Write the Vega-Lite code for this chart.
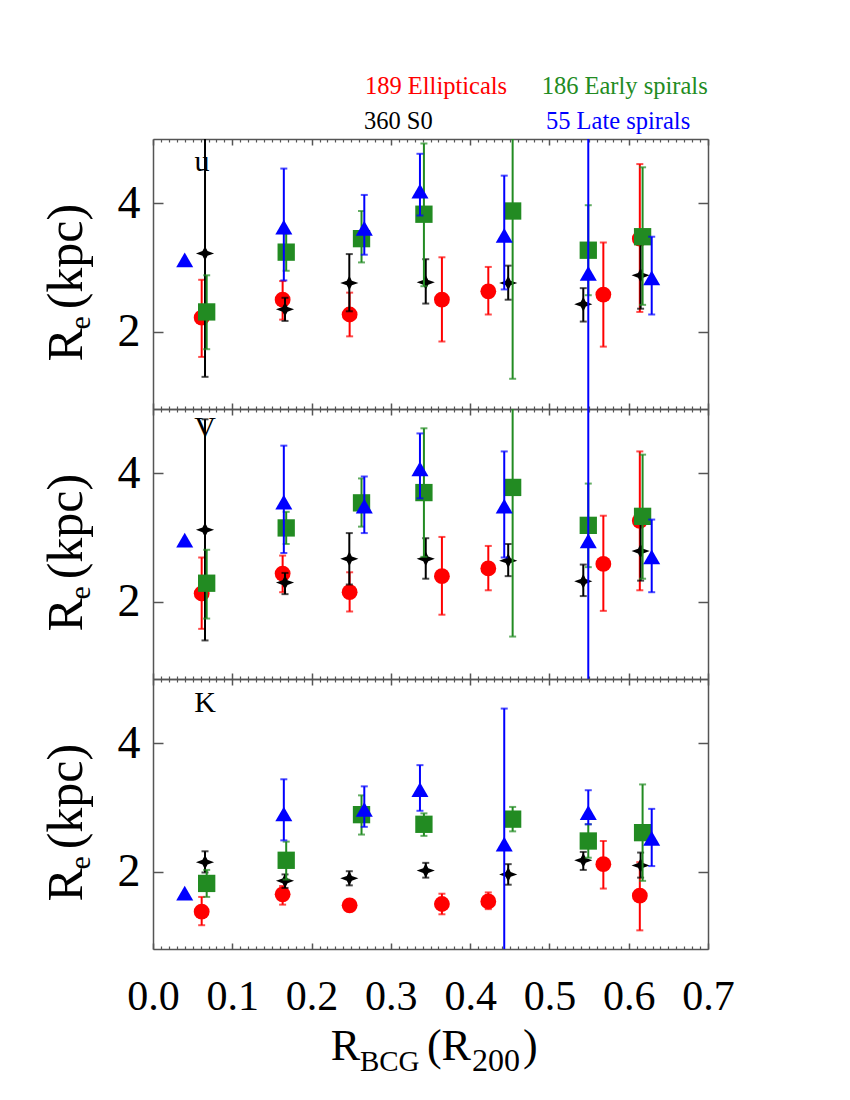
{
  "$schema": "https://vega.github.io/schema/vega-lite/v6.json",
  "padding": {"left": 42, "top": 74, "right": 5, "bottom": 5},
  "background": "white",
  "config": {"view": {"stroke": null}, "text": {"font": "Liberation Serif"}},
  "bounds": "flush",
  "spacing": 0,
  "data": {"values": [
    {"band":"u","g":"E","x":0.0614,"y":2.22,"lo":1.61,"hi":2.81},
    {"band":"u","g":"E","x":0.1635,"y":2.50,"lo":2.19,"hi":2.79},
    {"band":"u","g":"E","x":0.248,"y":2.27,"lo":1.93,"hi":2.61},
    {"band":"u","g":"E","x":0.3644,"y":2.50,"lo":1.85,"hi":3.16},
    {"band":"u","g":"E","x":0.4229,"y":2.63,"lo":2.27,"hi":3.01},
    {"band":"u","g":"E","x":0.568,"y":2.58,"lo":1.77,"hi":3.39},
    {"band":"u","g":"E","x":0.614,"y":3.45,"lo":2.31,"hi":4.61},
    {"band":"u","g":"S0","x":0.0656,"y":3.22,"lo":1.30,"hi":5.6},
    {"band":"u","g":"S0","x":0.1665,"y":2.35,"lo":2.17,"hi":2.53},
    {"band":"u","g":"S0","x":0.2476,"y":2.76,"lo":2.32,"hi":3.21},
    {"band":"u","g":"S0","x":0.344,"y":2.77,"lo":2.44,"hi":3.13},
    {"band":"u","g":"S0","x":0.448,"y":2.76,"lo":2.50,"hi":3.03},
    {"band":"u","g":"S0","x":0.5427,"y":2.43,"lo":2.16,"hi":2.68},
    {"band":"u","g":"S0","x":0.615,"y":2.88,"lo":2.36,"hi":3.40},
    {"band":"u","g":"ES","x":0.0677,"y":2.31,"lo":1.73,"hi":2.88},
    {"band":"u","g":"ES","x":0.168,"y":3.24,"lo":2.95,"hi":3.53},
    {"band":"u","g":"ES","x":0.263,"y":3.45,"lo":3.08,"hi":3.88},
    {"band":"u","g":"ES","x":0.3417,"y":3.83,"lo":2.71,"hi":4.93},
    {"band":"u","g":"ES","x":0.4536,"y":3.88,"lo":1.27,"hi":6.5},
    {"band":"u","g":"ES","x":0.549,"y":3.27,"lo":2.57,"hi":3.97},
    {"band":"u","g":"ES","x":0.6175,"y":3.48,"lo":2.42,"hi":4.56},
    {"band":"u","g":"LS","x":0.040,"y":3.12,"lo":null,"hi":null},
    {"band":"u","g":"LS","x":0.165,"y":3.63,"lo":2.80,"hi":4.54},
    {"band":"u","g":"LS","x":0.2665,"y":3.61,"lo":3.20,"hi":4.13},
    {"band":"u","g":"LS","x":0.3367,"y":4.19,"lo":3.81,"hi":4.77},
    {"band":"u","g":"LS","x":0.443,"y":3.50,"lo":2.66,"hi":4.43},
    {"band":"u","g":"LS","x":0.549,"y":2.91,"lo":-4,"hi":10},
    {"band":"u","g":"LS","x":0.629,"y":2.84,"lo":2.27,"hi":3.48},
    {"band":"V","g":"E","x":0.0614,"y":2.13,"lo":1.58,"hi":2.69},
    {"band":"V","g":"E","x":0.1635,"y":2.44,"lo":2.15,"hi":2.72},
    {"band":"V","g":"E","x":0.248,"y":2.15,"lo":1.85,"hi":2.46},
    {"band":"V","g":"E","x":0.3644,"y":2.40,"lo":1.80,"hi":3.01},
    {"band":"V","g":"E","x":0.4229,"y":2.52,"lo":2.18,"hi":2.87},
    {"band":"V","g":"E","x":0.568,"y":2.59,"lo":1.86,"hi":3.34},
    {"band":"V","g":"E","x":0.614,"y":3.26,"lo":2.18,"hi":4.34},
    {"band":"V","g":"S0","x":0.0656,"y":3.12,"lo":1.40,"hi":4.84},
    {"band":"V","g":"S0","x":0.1665,"y":2.30,"lo":2.12,"hi":2.45},
    {"band":"V","g":"S0","x":0.2476,"y":2.67,"lo":2.27,"hi":3.07},
    {"band":"V","g":"S0","x":0.344,"y":2.67,"lo":2.36,"hi":2.99},
    {"band":"V","g":"S0","x":0.448,"y":2.64,"lo":2.40,"hi":2.90},
    {"band":"V","g":"S0","x":0.5427,"y":2.32,"lo":2.09,"hi":2.58},
    {"band":"V","g":"S0","x":0.615,"y":2.79,"lo":2.33,"hi":3.25},
    {"band":"V","g":"ES","x":0.0677,"y":2.29,"lo":1.74,"hi":2.81},
    {"band":"V","g":"ES","x":0.168,"y":3.15,"lo":2.90,"hi":3.40},
    {"band":"V","g":"ES","x":0.263,"y":3.54,"lo":3.17,"hi":3.92},
    {"band":"V","g":"ES","x":0.3417,"y":3.70,"lo":2.70,"hi":4.70},
    {"band":"V","g":"ES","x":0.4536,"y":3.78,"lo":1.46,"hi":6.1},
    {"band":"V","g":"ES","x":0.549,"y":3.19,"lo":2.54,"hi":3.84},
    {"band":"V","g":"ES","x":0.6175,"y":3.33,"lo":2.36,"hi":4.29},
    {"band":"V","g":"LS","x":0.040,"y":2.96,"lo":null,"hi":null},
    {"band":"V","g":"LS","x":0.165,"y":3.55,"lo":2.76,"hi":4.43},
    {"band":"V","g":"LS","x":0.2665,"y":3.49,"lo":3.07,"hi":3.95},
    {"band":"V","g":"LS","x":0.3367,"y":4.07,"lo":3.61,"hi":4.62},
    {"band":"V","g":"LS","x":0.443,"y":3.49,"lo":2.69,"hi":4.34},
    {"band":"V","g":"LS","x":0.549,"y":2.95,"lo":-4,"hi":10},
    {"band":"V","g":"LS","x":0.629,"y":2.70,"lo":2.15,"hi":3.28},
    {"band":"K","g":"E","x":0.0614,"y":1.38,"lo":1.17,"hi":1.61},
    {"band":"K","g":"E","x":0.1635,"y":1.65,"lo":1.49,"hi":1.78},
    {"band":"K","g":"E","x":0.248,"y":1.48,"lo":null,"hi":null},
    {"band":"K","g":"E","x":0.3644,"y":1.50,"lo":1.34,"hi":1.66},
    {"band":"K","g":"E","x":0.4229,"y":1.54,"lo":1.42,"hi":1.68},
    {"band":"K","g":"E","x":0.568,"y":2.12,"lo":1.74,"hi":2.48},
    {"band":"K","g":"E","x":0.614,"y":1.63,"lo":1.09,"hi":2.15},
    {"band":"K","g":"S0","x":0.0656,"y":2.15,"lo":1.99,"hi":2.32},
    {"band":"K","g":"S0","x":0.1665,"y":1.86,"lo":1.75,"hi":1.96},
    {"band":"K","g":"S0","x":0.2476,"y":1.90,"lo":1.79,"hi":2.01},
    {"band":"K","g":"S0","x":0.344,"y":2.02,"lo":1.91,"hi":2.14},
    {"band":"K","g":"S0","x":0.448,"y":1.96,"lo":1.80,"hi":2.12},
    {"band":"K","g":"S0","x":0.5427,"y":2.18,"lo":2.03,"hi":2.31},
    {"band":"K","g":"S0","x":0.615,"y":2.10,"lo":1.91,"hi":2.30},
    {"band":"K","g":"ES","x":0.0677,"y":1.82,"lo":1.61,"hi":2.03},
    {"band":"K","g":"ES","x":0.168,"y":2.18,"lo":1.88,"hi":2.47},
    {"band":"K","g":"ES","x":0.263,"y":2.89,"lo":2.58,"hi":3.19},
    {"band":"K","g":"ES","x":0.3417,"y":2.74,"lo":2.56,"hi":2.91},
    {"band":"K","g":"ES","x":0.4536,"y":2.82,"lo":2.63,"hi":3.01},
    {"band":"K","g":"ES","x":0.549,"y":2.48,"lo":2.22,"hi":2.74},
    {"band":"K","g":"ES","x":0.6175,"y":2.61,"lo":1.86,"hi":3.36},
    {"band":"K","g":"LS","x":0.040,"y":1.67,"lo":null,"hi":null},
    {"band":"K","g":"LS","x":0.165,"y":2.90,"lo":2.49,"hi":3.44},
    {"band":"K","g":"LS","x":0.2665,"y":2.97,"lo":2.70,"hi":3.33},
    {"band":"K","g":"LS","x":0.3367,"y":3.28,"lo":2.95,"hi":3.66},
    {"band":"K","g":"LS","x":0.443,"y":2.43,"lo":0.32,"hi":4.54},
    {"band":"K","g":"LS","x":0.549,"y":2.92,"lo":2.74,"hi":3.27},
    {"band":"K","g":"LS","x":0.629,"y":2.52,"lo":2.09,"hi":2.98}
  ]},
  "vconcat": [
    {
      "width": 555, "height": 270,
      "resolve": {"axis": {"x": "independent", "y": "independent"}},
      "layer": [
        {"transform": [{"filter": "datum.band==='u' && datum.g==='E'"}], "mark": {"type": "rule", "color": "#ff0000", "strokeWidth": 2, "clip": true},
         "encoding": {"x": {"field": "x", "type": "quantitative", "scale": {"domain": [0, 0.7], "nice": false, "zero": false}, "axis": {"orient": "bottom", "values": [0,0.1,0.2,0.3,0.4,0.5,0.6,0.7], "tickSize": -6, "tickWidth": 1.5, "tickColor": "#555555", "domainColor": "#555555", "domainWidth": 1.5, "labels": false, "grid": false, "title": null}},
                      "y": {"field": "lo", "type": "quantitative", "scale": {"domain": [0.8, 5], "nice": false, "zero": false}, "axis": {"orient": "left", "values": [2,4], "tickSize": -10, "tickWidth": 1.5, "tickColor": "#555555", "domainColor": "#555555", "domainWidth": 1.5, "labelFont": "Liberation Serif", "labelFontSize": 46, "labelColor": "#000000", "labelPadding": 23, "grid": false, "title": null}},
                      "y2": {"field": "hi"}}},
        {"transform": [{"filter": "datum.band==='u' && datum.g==='E'"}, {"fold": ["lo", "hi"], "as": ["end", "yv"]}], "mark": {"type": "tick", "orient": "horizontal", "color": "#ff0000", "size": 7, "thickness": 2, "clip": true},
         "encoding": {"x": {"field": "x", "type": "quantitative", "scale": {"domain": [0, 0.7], "nice": false, "zero": false}, "axis": {"orient": "top", "values": [0,0.1,0.2,0.3,0.4,0.5,0.6,0.7], "tickSize": -6, "tickWidth": 1.5, "tickColor": "#555555", "domainColor": "#555555", "domainWidth": 1.5, "labels": false, "grid": false, "title": null}},
                      "y": {"field": "yv", "type": "quantitative", "scale": {"domain": [0.8, 5], "nice": false, "zero": false}, "axis": {"orient": "right", "values": [2,4], "tickSize": -10, "tickWidth": 1.5, "tickColor": "#555555", "domainColor": "#555555", "domainWidth": 1.5, "labels": false, "grid": false, "title": null}}}},
        {"transform": [{"filter": "datum.band==='u' && datum.g==='E'"}], "mark": {"type": "point", "shape": "circle", "filled": true, "color": "#ff0000", "opacity": 1, "size": 250, "clip": true},
         "encoding": {"x": {"field": "x", "type": "quantitative", "scale": {"domain": [0, 0.7], "nice": false, "zero": false}, "axis": {"orient": "bottom", "values": [0.01,0.02,0.03,0.04,0.05,0.06,0.07,0.08,0.09,0.11,0.12,0.13,0.14,0.15,0.16,0.17,0.18,0.19,0.21,0.22,0.23,0.24,0.25,0.26,0.27,0.28,0.29,0.31,0.32,0.33,0.34,0.35,0.36,0.37,0.38,0.39,0.41,0.42,0.43,0.44,0.45,0.46,0.47,0.48,0.49,0.51,0.52,0.53,0.54,0.55,0.56,0.57,0.58,0.59,0.61,0.62,0.63,0.64,0.65,0.66,0.67,0.68,0.69], "tickSize": -3, "tickWidth": 1.2, "tickColor": "#555555", "domain": false, "labels": false, "grid": false, "title": null}},
                      "y": {"field": "y", "type": "quantitative", "scale": {"domain": [0.8, 5], "nice": false, "zero": false}, "axis": null}}},
        {"transform": [{"filter": "datum.band==='u' && datum.g==='S0'"}], "mark": {"type": "rule", "color": "#000000", "strokeWidth": 2, "clip": true},
         "encoding": {"x": {"field": "x", "type": "quantitative", "scale": {"domain": [0, 0.7], "nice": false, "zero": false}, "axis": {"orient": "top", "values": [0.01,0.02,0.03,0.04,0.05,0.06,0.07,0.08,0.09,0.11,0.12,0.13,0.14,0.15,0.16,0.17,0.18,0.19,0.21,0.22,0.23,0.24,0.25,0.26,0.27,0.28,0.29,0.31,0.32,0.33,0.34,0.35,0.36,0.37,0.38,0.39,0.41,0.42,0.43,0.44,0.45,0.46,0.47,0.48,0.49,0.51,0.52,0.53,0.54,0.55,0.56,0.57,0.58,0.59,0.61,0.62,0.63,0.64,0.65,0.66,0.67,0.68,0.69], "tickSize": -3, "tickWidth": 1.2, "tickColor": "#555555", "domain": false, "labels": false, "grid": false, "title": null}},
                      "y": {"field": "lo", "type": "quantitative", "scale": {"domain": [0.8, 5], "nice": false, "zero": false}, "axis": null}, "y2": {"field": "hi"}}},
        {"transform": [{"filter": "datum.band==='u' && datum.g==='S0'"}, {"fold": ["lo", "hi"], "as": ["end", "yv"]}], "mark": {"type": "tick", "orient": "horizontal", "color": "#000000", "size": 7, "thickness": 2, "clip": true},
         "encoding": {"x": {"field": "x", "type": "quantitative", "axis": null}, "y": {"field": "yv", "type": "quantitative", "axis": null}}},
        {"transform": [{"filter": "datum.band==='u' && datum.g==='S0'"}], "mark": {"type": "point", "shape": "M-1,0L-0.28,-0.26L0,-0.8L0.28,-0.26L1,0L0.28,0.26L0,0.8L-0.28,0.26Z", "filled": true, "color": "#000000", "opacity": 1, "size": 330, "clip": true},
         "encoding": {"x": {"field": "x", "type": "quantitative", "axis": null}, "y": {"field": "y", "type": "quantitative", "axis": null}}},
        {"transform": [{"filter": "datum.band==='u' && datum.g==='ES'"}], "mark": {"type": "rule", "color": "#228b22", "strokeWidth": 2, "clip": true},
         "encoding": {"x": {"field": "x", "type": "quantitative", "axis": null}, "y": {"field": "lo", "type": "quantitative", "axis": null}, "y2": {"field": "hi"}}},
        {"transform": [{"filter": "datum.band==='u' && datum.g==='ES'"}, {"fold": ["lo", "hi"], "as": ["end", "yv"]}], "mark": {"type": "tick", "orient": "horizontal", "color": "#228b22", "size": 7, "thickness": 2, "clip": true},
         "encoding": {"x": {"field": "x", "type": "quantitative", "axis": null}, "y": {"field": "yv", "type": "quantitative", "axis": null}}},
        {"transform": [{"filter": "datum.band==='u' && datum.g==='ES'"}], "mark": {"type": "point", "shape": "square", "filled": true, "color": "#228b22", "opacity": 1, "size": 300, "clip": true},
         "encoding": {"x": {"field": "x", "type": "quantitative", "axis": null}, "y": {"field": "y", "type": "quantitative", "axis": null}}},
        {"transform": [{"filter": "datum.band==='u' && datum.g==='LS'"}], "mark": {"type": "rule", "color": "#0000ff", "strokeWidth": 2, "clip": true},
         "encoding": {"x": {"field": "x", "type": "quantitative", "axis": null}, "y": {"field": "lo", "type": "quantitative", "axis": null}, "y2": {"field": "hi"}}},
        {"transform": [{"filter": "datum.band==='u' && datum.g==='LS'"}, {"fold": ["lo", "hi"], "as": ["end", "yv"]}], "mark": {"type": "tick", "orient": "horizontal", "color": "#0000ff", "size": 7, "thickness": 2, "clip": true},
         "encoding": {"x": {"field": "x", "type": "quantitative", "axis": null}, "y": {"field": "yv", "type": "quantitative", "axis": null}}},
        {"transform": [{"filter": "datum.band==='u' && datum.g==='LS'"}], "mark": {"type": "point", "shape": "triangle-up", "filled": true, "color": "#0000ff", "opacity": 1, "size": 290, "clip": true},
         "encoding": {"x": {"field": "x", "type": "quantitative", "axis": null}, "y": {"field": "y", "type": "quantitative", "axis": null}}},
        {"data": {"values": [{"t": "u"}]}, "mark": {"type": "text", "font": "Liberation Serif", "fontSize": 30, "align": "center", "baseline": "alphabetic", "color": "#000000"},
         "encoding": {"x": {"datum": 0.0618, "type": "quantitative", "axis": null}, "y": {"datum": 4.5, "type": "quantitative", "axis": null}, "text": {"field": "t"}}},
        {"data": {"values": [{"t": "R"}]}, "mark": {"type": "text", "font": "Liberation Serif", "fontSize": 50, "angle": 270, "align": "left", "baseline": "alphabetic", "color": "#000000"},
         "encoding": {"x": {"datum": -0.0895, "type": "quantitative", "axis": null}, "y": {"datum": 1.539, "type": "quantitative", "axis": null}, "text": {"field": "t"}}},
        {"data": {"values": [{"t": "e"}]}, "mark": {"type": "text", "font": "Liberation Serif", "fontSize": 30, "angle": 270, "align": "left", "baseline": "alphabetic", "color": "#000000"},
         "encoding": {"x": {"datum": -0.0794, "type": "quantitative", "axis": null}, "y": {"datum": 2.037, "type": "quantitative", "axis": null}, "text": {"field": "t"}}},
        {"data": {"values": [{"t": "(kpc)"}]}, "mark": {"type": "text", "font": "Liberation Serif", "fontSize": 50, "angle": 270, "align": "left", "baseline": "alphabetic", "color": "#000000"},
         "encoding": {"x": {"datum": -0.0895, "type": "quantitative", "axis": null}, "y": {"datum": 2.35, "type": "quantitative", "axis": null}, "text": {"field": "t"}}},
        {"data": {"values": [{"t": "189 Ellipticals"}]}, "mark": {"type": "text", "font": "Liberation Serif", "fontSize": 24.5, "align": "left", "baseline": "alphabetic", "color": "#ff0000"},
         "encoding": {"x": {"datum": 0.2673, "type": "quantitative", "axis": null}, "y": {"datum": 5.698, "type": "quantitative", "axis": null}, "text": {"field": "t"}}},
        {"data": {"values": [{"t": "186 Early spirals"}]}, "mark": {"type": "text", "font": "Liberation Serif", "fontSize": 24.5, "align": "left", "baseline": "alphabetic", "color": "#228b22"},
         "encoding": {"x": {"datum": 0.4902, "type": "quantitative", "axis": null}, "y": {"datum": 5.698, "type": "quantitative", "axis": null}, "text": {"field": "t"}}},
        {"data": {"values": [{"t": "360 S0"}]}, "mark": {"type": "text", "font": "Liberation Serif", "fontSize": 24.5, "align": "left", "baseline": "alphabetic", "color": "#000000"},
         "encoding": {"x": {"datum": 0.2661, "type": "quantitative", "axis": null}, "y": {"datum": 5.153, "type": "quantitative", "axis": null}, "text": {"field": "t"}}},
        {"data": {"values": [{"t": "55 Late spirals"}]}, "mark": {"type": "text", "font": "Liberation Serif", "fontSize": 24.5, "align": "left", "baseline": "alphabetic", "color": "#0000ff"},
         "encoding": {"x": {"datum": 0.4956, "type": "quantitative", "axis": null}, "y": {"datum": 5.153, "type": "quantitative", "axis": null}, "text": {"field": "t"}}}
      ]
    },
    {
      "width": 555, "height": 270,
      "resolve": {"axis": {"x": "independent", "y": "independent"}},
      "layer": [
        {"transform": [{"filter": "datum.band==='V' && datum.g==='E'"}], "mark": {"type": "rule", "color": "#ff0000", "strokeWidth": 2, "clip": true},
         "encoding": {"x": {"field": "x", "type": "quantitative", "scale": {"domain": [0, 0.7], "nice": false, "zero": false}, "axis": {"orient": "bottom", "values": [0,0.1,0.2,0.3,0.4,0.5,0.6,0.7], "tickSize": -6, "tickWidth": 1.5, "tickColor": "#555555", "domainColor": "#555555", "domainWidth": 1.5, "labels": false, "grid": false, "title": null}},
                      "y": {"field": "lo", "type": "quantitative", "scale": {"domain": [0.8, 5], "nice": false, "zero": false}, "axis": {"orient": "left", "values": [2,4], "tickSize": -10, "tickWidth": 1.5, "tickColor": "#555555", "domainColor": "#555555", "domainWidth": 1.5, "labelFont": "Liberation Serif", "labelFontSize": 46, "labelColor": "#000000", "labelPadding": 23, "grid": false, "title": null}},
                      "y2": {"field": "hi"}}},
        {"transform": [{"filter": "datum.band==='V' && datum.g==='E'"}, {"fold": ["lo", "hi"], "as": ["end", "yv"]}], "mark": {"type": "tick", "orient": "horizontal", "color": "#ff0000", "size": 7, "thickness": 2, "clip": true},
         "encoding": {"x": {"field": "x", "type": "quantitative", "scale": {"domain": [0, 0.7], "nice": false, "zero": false}, "axis": {"orient": "top", "values": [0,0.1,0.2,0.3,0.4,0.5,0.6,0.7], "tickSize": -6, "tickWidth": 1.5, "tickColor": "#555555", "domainColor": "#555555", "domainWidth": 1.5, "labels": false, "grid": false, "title": null}},
                      "y": {"field": "yv", "type": "quantitative", "scale": {"domain": [0.8, 5], "nice": false, "zero": false}, "axis": {"orient": "right", "values": [2,4], "tickSize": -10, "tickWidth": 1.5, "tickColor": "#555555", "domainColor": "#555555", "domainWidth": 1.5, "labels": false, "grid": false, "title": null}}}},
        {"transform": [{"filter": "datum.band==='V' && datum.g==='E'"}], "mark": {"type": "point", "shape": "circle", "filled": true, "color": "#ff0000", "opacity": 1, "size": 250, "clip": true},
         "encoding": {"x": {"field": "x", "type": "quantitative", "scale": {"domain": [0, 0.7], "nice": false, "zero": false}, "axis": {"orient": "bottom", "values": [0.01,0.02,0.03,0.04,0.05,0.06,0.07,0.08,0.09,0.11,0.12,0.13,0.14,0.15,0.16,0.17,0.18,0.19,0.21,0.22,0.23,0.24,0.25,0.26,0.27,0.28,0.29,0.31,0.32,0.33,0.34,0.35,0.36,0.37,0.38,0.39,0.41,0.42,0.43,0.44,0.45,0.46,0.47,0.48,0.49,0.51,0.52,0.53,0.54,0.55,0.56,0.57,0.58,0.59,0.61,0.62,0.63,0.64,0.65,0.66,0.67,0.68,0.69], "tickSize": -3, "tickWidth": 1.2, "tickColor": "#555555", "domain": false, "labels": false, "grid": false, "title": null}},
                      "y": {"field": "y", "type": "quantitative", "scale": {"domain": [0.8, 5], "nice": false, "zero": false}, "axis": null}}},
        {"transform": [{"filter": "datum.band==='V' && datum.g==='S0'"}], "mark": {"type": "rule", "color": "#000000", "strokeWidth": 2, "clip": true},
         "encoding": {"x": {"field": "x", "type": "quantitative", "scale": {"domain": [0, 0.7], "nice": false, "zero": false}, "axis": {"orient": "top", "values": [0.01,0.02,0.03,0.04,0.05,0.06,0.07,0.08,0.09,0.11,0.12,0.13,0.14,0.15,0.16,0.17,0.18,0.19,0.21,0.22,0.23,0.24,0.25,0.26,0.27,0.28,0.29,0.31,0.32,0.33,0.34,0.35,0.36,0.37,0.38,0.39,0.41,0.42,0.43,0.44,0.45,0.46,0.47,0.48,0.49,0.51,0.52,0.53,0.54,0.55,0.56,0.57,0.58,0.59,0.61,0.62,0.63,0.64,0.65,0.66,0.67,0.68,0.69], "tickSize": -3, "tickWidth": 1.2, "tickColor": "#555555", "domain": false, "labels": false, "grid": false, "title": null}},
                      "y": {"field": "lo", "type": "quantitative", "scale": {"domain": [0.8, 5], "nice": false, "zero": false}, "axis": null}, "y2": {"field": "hi"}}},
        {"transform": [{"filter": "datum.band==='V' && datum.g==='S0'"}, {"fold": ["lo", "hi"], "as": ["end", "yv"]}], "mark": {"type": "tick", "orient": "horizontal", "color": "#000000", "size": 7, "thickness": 2, "clip": true},
         "encoding": {"x": {"field": "x", "type": "quantitative", "axis": null}, "y": {"field": "yv", "type": "quantitative", "axis": null}}},
        {"transform": [{"filter": "datum.band==='V' && datum.g==='S0'"}], "mark": {"type": "point", "shape": "M-1,0L-0.28,-0.26L0,-0.8L0.28,-0.26L1,0L0.28,0.26L0,0.8L-0.28,0.26Z", "filled": true, "color": "#000000", "opacity": 1, "size": 330, "clip": true},
         "encoding": {"x": {"field": "x", "type": "quantitative", "axis": null}, "y": {"field": "y", "type": "quantitative", "axis": null}}},
        {"transform": [{"filter": "datum.band==='V' && datum.g==='ES'"}], "mark": {"type": "rule", "color": "#228b22", "strokeWidth": 2, "clip": true},
         "encoding": {"x": {"field": "x", "type": "quantitative", "axis": null}, "y": {"field": "lo", "type": "quantitative", "axis": null}, "y2": {"field": "hi"}}},
        {"transform": [{"filter": "datum.band==='V' && datum.g==='ES'"}, {"fold": ["lo", "hi"], "as": ["end", "yv"]}], "mark": {"type": "tick", "orient": "horizontal", "color": "#228b22", "size": 7, "thickness": 2, "clip": true},
         "encoding": {"x": {"field": "x", "type": "quantitative", "axis": null}, "y": {"field": "yv", "type": "quantitative", "axis": null}}},
        {"transform": [{"filter": "datum.band==='V' && datum.g==='ES'"}], "mark": {"type": "point", "shape": "square", "filled": true, "color": "#228b22", "opacity": 1, "size": 300, "clip": true},
         "encoding": {"x": {"field": "x", "type": "quantitative", "axis": null}, "y": {"field": "y", "type": "quantitative", "axis": null}}},
        {"transform": [{"filter": "datum.band==='V' && datum.g==='LS'"}], "mark": {"type": "rule", "color": "#0000ff", "strokeWidth": 2, "clip": true},
         "encoding": {"x": {"field": "x", "type": "quantitative", "axis": null}, "y": {"field": "lo", "type": "quantitative", "axis": null}, "y2": {"field": "hi"}}},
        {"transform": [{"filter": "datum.band==='V' && datum.g==='LS'"}, {"fold": ["lo", "hi"], "as": ["end", "yv"]}], "mark": {"type": "tick", "orient": "horizontal", "color": "#0000ff", "size": 7, "thickness": 2, "clip": true},
         "encoding": {"x": {"field": "x", "type": "quantitative", "axis": null}, "y": {"field": "yv", "type": "quantitative", "axis": null}}},
        {"transform": [{"filter": "datum.band==='V' && datum.g==='LS'"}], "mark": {"type": "point", "shape": "triangle-up", "filled": true, "color": "#0000ff", "opacity": 1, "size": 290, "clip": true},
         "encoding": {"x": {"field": "x", "type": "quantitative", "axis": null}, "y": {"field": "y", "type": "quantitative", "axis": null}}},
        {"data": {"values": [{"t": "V"}]}, "mark": {"type": "text", "font": "Liberation Serif", "fontSize": 30, "align": "center", "baseline": "alphabetic", "color": "#000000"},
         "encoding": {"x": {"datum": 0.0656, "type": "quantitative", "axis": null}, "y": {"datum": 4.56, "type": "quantitative", "axis": null}, "text": {"field": "t"}}},
        {"data": {"values": [{"t": "R"}]}, "mark": {"type": "text", "font": "Liberation Serif", "fontSize": 50, "angle": 270, "align": "left", "baseline": "alphabetic", "color": "#000000"},
         "encoding": {"x": {"datum": -0.0895, "type": "quantitative", "axis": null}, "y": {"datum": 1.539, "type": "quantitative", "axis": null}, "text": {"field": "t"}}},
        {"data": {"values": [{"t": "e"}]}, "mark": {"type": "text", "font": "Liberation Serif", "fontSize": 30, "angle": 270, "align": "left", "baseline": "alphabetic", "color": "#000000"},
         "encoding": {"x": {"datum": -0.0794, "type": "quantitative", "axis": null}, "y": {"datum": 2.037, "type": "quantitative", "axis": null}, "text": {"field": "t"}}},
        {"data": {"values": [{"t": "(kpc)"}]}, "mark": {"type": "text", "font": "Liberation Serif", "fontSize": 50, "angle": 270, "align": "left", "baseline": "alphabetic", "color": "#000000"},
         "encoding": {"x": {"datum": -0.0895, "type": "quantitative", "axis": null}, "y": {"datum": 2.35, "type": "quantitative", "axis": null}, "text": {"field": "t"}}}
      ]
    },
    {
      "width": 555, "height": 270,
      "resolve": {"axis": {"x": "independent", "y": "independent"}},
      "layer": [
        {"transform": [{"filter": "datum.band==='K' && datum.g==='E'"}], "mark": {"type": "rule", "color": "#ff0000", "strokeWidth": 2, "clip": true},
         "encoding": {"x": {"field": "x", "type": "quantitative", "scale": {"domain": [0, 0.7], "nice": false, "zero": false}, "axis": {"orient": "bottom", "values": [0,0.1,0.2,0.3,0.4,0.5,0.6,0.7], "format": ".1f", "tickSize": -6, "tickWidth": 1.5, "tickColor": "#555555", "domainColor": "#555555", "domainWidth": 1.5, "labelFont": "Liberation Serif", "labelFontSize": 42, "labelColor": "#000000", "labelPadding": 33, "labelFlush": false, "labelOverlap": false, "grid": false, "title": null}},
                      "y": {"field": "lo", "type": "quantitative", "scale": {"domain": [0.8, 5], "nice": false, "zero": false}, "axis": {"orient": "left", "values": [2,4], "tickSize": -10, "tickWidth": 1.5, "tickColor": "#555555", "domainColor": "#555555", "domainWidth": 1.5, "labelFont": "Liberation Serif", "labelFontSize": 46, "labelColor": "#000000", "labelPadding": 23, "grid": false, "title": null}},
                      "y2": {"field": "hi"}}},
        {"transform": [{"filter": "datum.band==='K' && datum.g==='E'"}, {"fold": ["lo", "hi"], "as": ["end", "yv"]}], "mark": {"type": "tick", "orient": "horizontal", "color": "#ff0000", "size": 7, "thickness": 2, "clip": true},
         "encoding": {"x": {"field": "x", "type": "quantitative", "scale": {"domain": [0, 0.7], "nice": false, "zero": false}, "axis": {"orient": "top", "values": [0,0.1,0.2,0.3,0.4,0.5,0.6,0.7], "tickSize": -6, "tickWidth": 1.5, "tickColor": "#555555", "domainColor": "#555555", "domainWidth": 1.5, "labels": false, "grid": false, "title": null}},
                      "y": {"field": "yv", "type": "quantitative", "scale": {"domain": [0.8, 5], "nice": false, "zero": false}, "axis": {"orient": "right", "values": [2,4], "tickSize": -10, "tickWidth": 1.5, "tickColor": "#555555", "domainColor": "#555555", "domainWidth": 1.5, "labels": false, "grid": false, "title": null}}}},
        {"transform": [{"filter": "datum.band==='K' && datum.g==='E'"}], "mark": {"type": "point", "shape": "circle", "filled": true, "color": "#ff0000", "opacity": 1, "size": 250, "clip": true},
         "encoding": {"x": {"field": "x", "type": "quantitative", "scale": {"domain": [0, 0.7], "nice": false, "zero": false}, "axis": {"orient": "bottom", "values": [0.01,0.02,0.03,0.04,0.05,0.06,0.07,0.08,0.09,0.11,0.12,0.13,0.14,0.15,0.16,0.17,0.18,0.19,0.21,0.22,0.23,0.24,0.25,0.26,0.27,0.28,0.29,0.31,0.32,0.33,0.34,0.35,0.36,0.37,0.38,0.39,0.41,0.42,0.43,0.44,0.45,0.46,0.47,0.48,0.49,0.51,0.52,0.53,0.54,0.55,0.56,0.57,0.58,0.59,0.61,0.62,0.63,0.64,0.65,0.66,0.67,0.68,0.69], "tickSize": -3, "tickWidth": 1.2, "tickColor": "#555555", "domain": false, "labels": false, "grid": false, "title": null}},
                      "y": {"field": "y", "type": "quantitative", "scale": {"domain": [0.8, 5], "nice": false, "zero": false}, "axis": null}}},
        {"transform": [{"filter": "datum.band==='K' && datum.g==='S0'"}], "mark": {"type": "rule", "color": "#000000", "strokeWidth": 2, "clip": true},
         "encoding": {"x": {"field": "x", "type": "quantitative", "scale": {"domain": [0, 0.7], "nice": false, "zero": false}, "axis": {"orient": "top", "values": [0.01,0.02,0.03,0.04,0.05,0.06,0.07,0.08,0.09,0.11,0.12,0.13,0.14,0.15,0.16,0.17,0.18,0.19,0.21,0.22,0.23,0.24,0.25,0.26,0.27,0.28,0.29,0.31,0.32,0.33,0.34,0.35,0.36,0.37,0.38,0.39,0.41,0.42,0.43,0.44,0.45,0.46,0.47,0.48,0.49,0.51,0.52,0.53,0.54,0.55,0.56,0.57,0.58,0.59,0.61,0.62,0.63,0.64,0.65,0.66,0.67,0.68,0.69], "tickSize": -3, "tickWidth": 1.2, "tickColor": "#555555", "domain": false, "labels": false, "grid": false, "title": null}},
                      "y": {"field": "lo", "type": "quantitative", "scale": {"domain": [0.8, 5], "nice": false, "zero": false}, "axis": null}, "y2": {"field": "hi"}}},
        {"transform": [{"filter": "datum.band==='K' && datum.g==='S0'"}, {"fold": ["lo", "hi"], "as": ["end", "yv"]}], "mark": {"type": "tick", "orient": "horizontal", "color": "#000000", "size": 7, "thickness": 2, "clip": true},
         "encoding": {"x": {"field": "x", "type": "quantitative", "axis": null}, "y": {"field": "yv", "type": "quantitative", "axis": null}}},
        {"transform": [{"filter": "datum.band==='K' && datum.g==='S0'"}], "mark": {"type": "point", "shape": "M-1,0L-0.28,-0.26L0,-0.8L0.28,-0.26L1,0L0.28,0.26L0,0.8L-0.28,0.26Z", "filled": true, "color": "#000000", "opacity": 1, "size": 330, "clip": true},
         "encoding": {"x": {"field": "x", "type": "quantitative", "axis": null}, "y": {"field": "y", "type": "quantitative", "axis": null}}},
        {"transform": [{"filter": "datum.band==='K' && datum.g==='ES'"}], "mark": {"type": "rule", "color": "#228b22", "strokeWidth": 2, "clip": true},
         "encoding": {"x": {"field": "x", "type": "quantitative", "axis": null}, "y": {"field": "lo", "type": "quantitative", "axis": null}, "y2": {"field": "hi"}}},
        {"transform": [{"filter": "datum.band==='K' && datum.g==='ES'"}, {"fold": ["lo", "hi"], "as": ["end", "yv"]}], "mark": {"type": "tick", "orient": "horizontal", "color": "#228b22", "size": 7, "thickness": 2, "clip": true},
         "encoding": {"x": {"field": "x", "type": "quantitative", "axis": null}, "y": {"field": "yv", "type": "quantitative", "axis": null}}},
        {"transform": [{"filter": "datum.band==='K' && datum.g==='ES'"}], "mark": {"type": "point", "shape": "square", "filled": true, "color": "#228b22", "opacity": 1, "size": 300, "clip": true},
         "encoding": {"x": {"field": "x", "type": "quantitative", "axis": null}, "y": {"field": "y", "type": "quantitative", "axis": null}}},
        {"transform": [{"filter": "datum.band==='K' && datum.g==='LS'"}], "mark": {"type": "rule", "color": "#0000ff", "strokeWidth": 2, "clip": true},
         "encoding": {"x": {"field": "x", "type": "quantitative", "axis": null}, "y": {"field": "lo", "type": "quantitative", "axis": null}, "y2": {"field": "hi"}}},
        {"transform": [{"filter": "datum.band==='K' && datum.g==='LS'"}, {"fold": ["lo", "hi"], "as": ["end", "yv"]}], "mark": {"type": "tick", "orient": "horizontal", "color": "#0000ff", "size": 7, "thickness": 2, "clip": true},
         "encoding": {"x": {"field": "x", "type": "quantitative", "axis": null}, "y": {"field": "yv", "type": "quantitative", "axis": null}}},
        {"transform": [{"filter": "datum.band==='K' && datum.g==='LS'"}], "mark": {"type": "point", "shape": "triangle-up", "filled": true, "color": "#0000ff", "opacity": 1, "size": 290, "clip": true},
         "encoding": {"x": {"field": "x", "type": "quantitative", "axis": null}, "y": {"field": "y", "type": "quantitative", "axis": null}}},
        {"data": {"values": [{"t": "K"}]}, "mark": {"type": "text", "font": "Liberation Serif", "fontSize": 30, "align": "center", "baseline": "alphabetic", "color": "#000000"},
         "encoding": {"x": {"datum": 0.0656, "type": "quantitative", "axis": null}, "y": {"datum": 4.49, "type": "quantitative", "axis": null}, "text": {"field": "t"}}},
        {"data": {"values": [{"t": "R"}]}, "mark": {"type": "text", "font": "Liberation Serif", "fontSize": 50, "angle": 270, "align": "left", "baseline": "alphabetic", "color": "#000000"},
         "encoding": {"x": {"datum": -0.0895, "type": "quantitative", "axis": null}, "y": {"datum": 1.539, "type": "quantitative", "axis": null}, "text": {"field": "t"}}},
        {"data": {"values": [{"t": "e"}]}, "mark": {"type": "text", "font": "Liberation Serif", "fontSize": 30, "angle": 270, "align": "left", "baseline": "alphabetic", "color": "#000000"},
         "encoding": {"x": {"datum": -0.0794, "type": "quantitative", "axis": null}, "y": {"datum": 2.037, "type": "quantitative", "axis": null}, "text": {"field": "t"}}},
        {"data": {"values": [{"t": "(kpc)"}]}, "mark": {"type": "text", "font": "Liberation Serif", "fontSize": 50, "angle": 270, "align": "left", "baseline": "alphabetic", "color": "#000000"},
         "encoding": {"x": {"datum": -0.0895, "type": "quantitative", "axis": null}, "y": {"datum": 2.35, "type": "quantitative", "axis": null}, "text": {"field": "t"}}},
        {"data": {"values": [{"t": "R"}]}, "mark": {"type": "text", "font": "Liberation Serif", "fontSize": 44, "align": "left", "baseline": "alphabetic", "color": "#000000"},
         "encoding": {"x": {"datum": 0.2241, "type": "quantitative", "axis": null}, "y": {"datum": -0.922, "type": "quantitative", "axis": null}, "text": {"field": "t"}}},
        {"data": {"values": [{"t": "BCG"}]}, "mark": {"type": "text", "font": "Liberation Serif", "fontSize": 29, "align": "left", "baseline": "alphabetic", "color": "#000000"},
         "encoding": {"x": {"datum": 0.261, "type": "quantitative", "axis": null}, "y": {"datum": -1.104, "type": "quantitative", "axis": null}, "text": {"field": "t"}}},
        {"data": {"values": [{"t": "(R"}]}, "mark": {"type": "text", "font": "Liberation Serif", "fontSize": 44, "align": "left", "baseline": "alphabetic", "color": "#000000"},
         "encoding": {"x": {"datum": 0.3455, "type": "quantitative", "axis": null}, "y": {"datum": -0.922, "type": "quantitative", "axis": null}, "text": {"field": "t"}}},
        {"data": {"values": [{"t": "200"}]}, "mark": {"type": "text", "font": "Liberation Serif", "fontSize": 32, "align": "left", "baseline": "alphabetic", "color": "#000000"},
         "encoding": {"x": {"datum": 0.4023, "type": "quantitative", "axis": null}, "y": {"datum": -1.104, "type": "quantitative", "axis": null}, "text": {"field": "t"}}},
        {"data": {"values": [{"t": ")"}]}, "mark": {"type": "text", "font": "Liberation Serif", "fontSize": 44, "align": "left", "baseline": "alphabetic", "color": "#000000"},
         "encoding": {"x": {"datum": 0.4666, "type": "quantitative", "axis": null}, "y": {"datum": -0.922, "type": "quantitative", "axis": null}, "text": {"field": "t"}}}
      ]
    }
  ]
}
